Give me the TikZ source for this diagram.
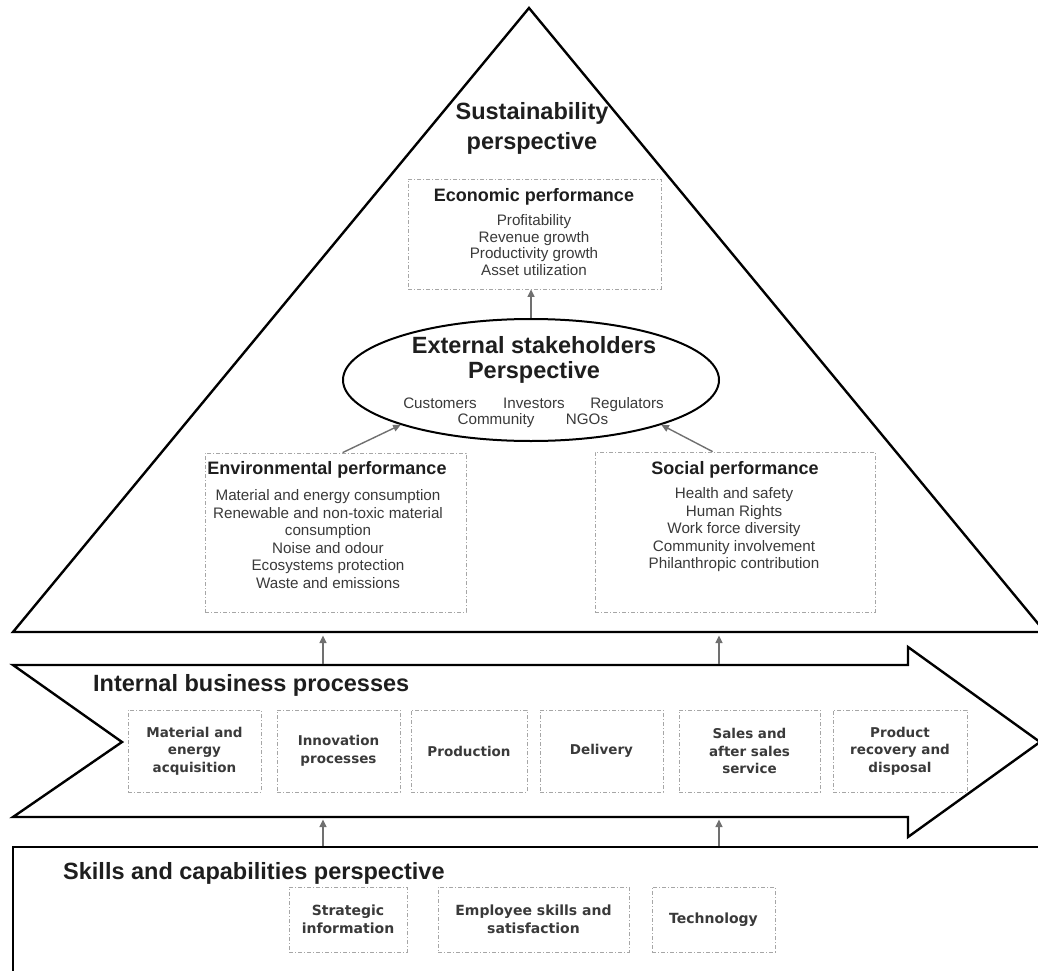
\documentclass[tikz,border=0pt]{standalone}
\usepackage{fontspec}
\setmainfont{Liberation Sans}
\newfontfamily\procfont{DejaVu Sans}
\usetikzlibrary{arrows.meta,shapes.geometric,calc}

\definecolor{ink}{HTML}{1E1E1E}
\definecolor{soft}{HTML}{3A3A3A}
\definecolor{frame}{HTML}{A6A6A6}
\definecolor{link}{HTML}{707070}

\tikzset{
  outline/.style={draw=black, line width=2.4pt, line join=miter, fill=white},
  dbox/.style={draw=frame, line width=0.8pt, dash pattern=on 4pt off 2pt on 1pt off 2pt, inner sep=0pt},
  flow/.style={draw=link, line width=1.4pt, -{Triangle[length=7.5pt,width=7pt]}},
  bighead/.style={font=\fontsize{23.5}{28}\selectfont\bfseries, text=ink, inner sep=0pt},
  boxhead/.style={font=\fontsize{18}{21}\selectfont\bfseries, text=ink, inner sep=0pt},
  items/.style={font=\fontsize{15.2}{17.4}\selectfont, text=soft, align=center, inner sep=0pt},
  proc/.style={dbox, minimum height=82pt, align=center, text=soft,
               font=\procfont\bfseries\fontsize{13.5}{17.5}\selectfont},
  skill/.style={dbox, minimum height=65pt, align=center, text=soft,
               font=\procfont\bfseries\fontsize{14}{17.5}\selectfont},
}

\begin{document}
\begin{tikzpicture}[x=1pt,y=-1pt]
\useasboundingbox (0,0) rectangle (1038,971);

% three layers: capabilities base, process arrow, sustainability pyramid
\draw[outline] (13,847) rectangle (1070,1000);
\draw[outline] (13,665) -- (908,665) -- (908,647) -- (1040,742) -- (908,837)
               -- (908,817) -- (13,817) -- (122,742) -- cycle;
\draw[outline] (13,632) -- (529,8) -- (1045,632) -- cycle;

% pyramid contents
\node[bighead, align=center, font=\fontsize{23.5}{30}\selectfont\bfseries] (sust) at (532,128)
  {Sustainability\\perspective};

\node[dbox, minimum width=253pt, minimum height=110pt] (econ) at (534.5,234) {};
\node[boxhead] (econh) at (534,197) {Economic performance};
\node[items, font=\fontsize{15.2}{16.7}\selectfont] (econi) at (534,245)
  {Profitability\\Revenue growth\\Productivity growth\\Asset utilization};

\node[ellipse, draw=black, line width=2pt, minimum width=376pt, minimum height=122pt,
      inner sep=0pt, fill=white] (ext) at (531,380) {};
\node[bighead, align=center, font=\fontsize{23.5}{25}\selectfont\bfseries] (exth) at (534,360)
  {External stakeholders\\Perspective};
\node[items, anchor=base] (cust) at (440,408) {Customers};
\node[items, anchor=base] (inv) at (534,408) {Investors};
\node[items, anchor=base] (reg) at (627,408) {Regulators};
\node[items, anchor=base] (comm) at (496,424) {Community};
\node[items, anchor=base] (ngo) at (587,424) {NGOs};

\node[dbox, minimum width=261pt, minimum height=159pt] (env) at (335.5,532.5) {};
\node[boxhead] (envh) at (327,470) {Environmental performance};
\node[items, font=\fontsize{15.2}{17.6}\selectfont] (envi) at (328,539)
  {Material and energy consumption\\Renewable and non-toxic material\\consumption\\Noise and odour\\Ecosystems protection\\Waste and emissions};

\node[dbox, minimum width=280pt, minimum height=160pt] (soc) at (735,532) {};
\node[boxhead] (soch) at (735,470) {Social performance};
\node[items, font=\fontsize{15.2}{17.5}\selectfont] (soci) at (734,530)
  {Health and safety\\Human Rights\\Work force diversity\\Community involvement\\Philanthropic contribution};

\draw[flow] (ext.north) -- (ext.north |- econ.south);
\draw[flow] ([xshift=138pt]env.north west) -- (ext.199);
\draw[flow] ([xshift=118pt]soc.north west) -- (ext.341);

% internal business processes
\node[bighead, anchor=west] (ibp) at (93,685) {Internal business processes};
\node[proc, minimum width=133pt] (p1) at (194.5,751) {Material and\\energy\\acquisition};
\node[proc, minimum width=123pt] (p2) at (338.5,751) {Innovation\\processes};
\node[proc, minimum width=116pt] (p3) at (469,751) {Production};
\node[proc, minimum width=123pt] (p4) at (601.5,751) {Delivery};
\node[proc, minimum width=141pt] (p5) at (749.5,751) {Sales and\\after sales\\service};
\node[proc, minimum width=134pt] (p6) at (900,751) {Product\\recovery and\\disposal};

% skills and capabilities
\node[bighead, anchor=west] (skh) at (63,873) {Skills and capabilities perspective};
\node[skill, minimum width=118pt] (s1) at (348,919.5) {Strategic\\information};
\node[skill, minimum width=191pt] (s2) at (533.5,919.5) {Employee skills and\\satisfaction};
\node[skill, minimum width=123pt] (s3) at (713.5,919.5) {Technology};

% links between the layers
\coordinate (ibpL) at (323,663.5);
\coordinate (ibpR) at (719,663.5);
\coordinate (triL) at (323,635.5);
\coordinate (triR) at (719,635.5);
\coordinate (capL) at (323,845.5);
\coordinate (capR) at (719,845.5);
\coordinate (arrL) at (323,819.5);
\coordinate (arrR) at (719,819.5);
\draw[flow] (ibpL) -- (triL);
\draw[flow] (ibpR) -- (triR);
\draw[flow] (capL) -- (arrL);
\draw[flow] (capR) -- (arrR);
\end{tikzpicture}
\end{document}
